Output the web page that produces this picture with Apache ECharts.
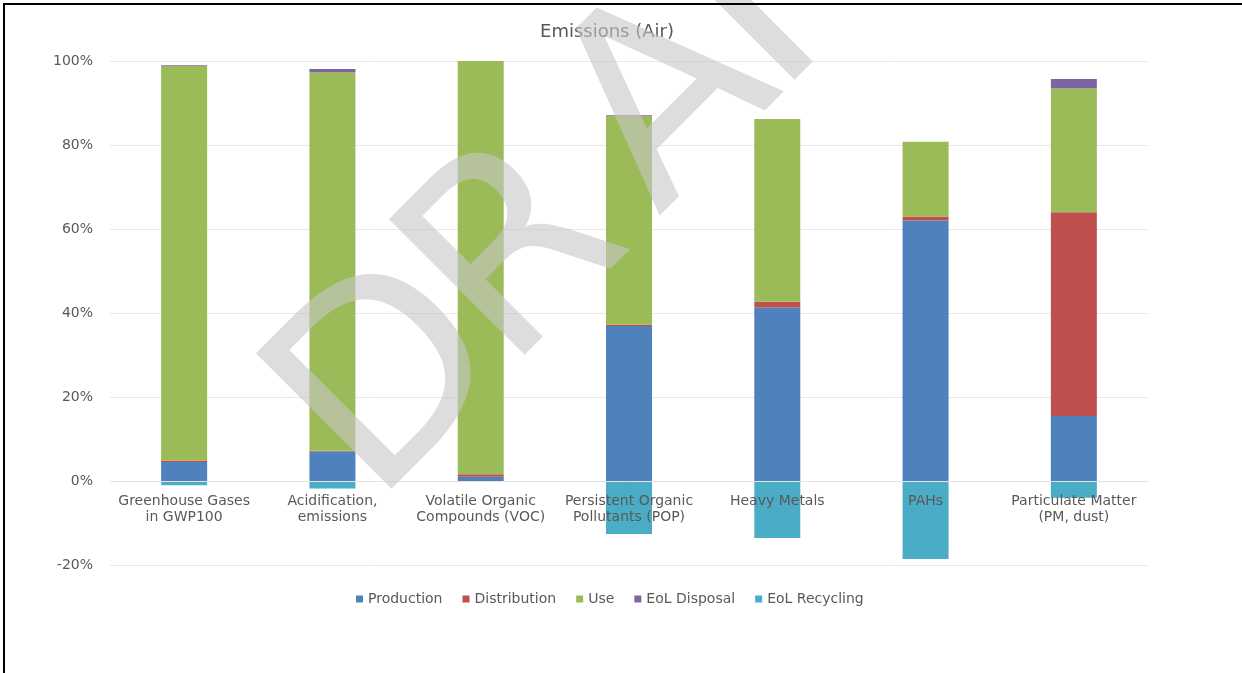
<!DOCTYPE html>
<html>
<head>
<meta charset="utf-8">
<title>Emissions (Air)</title>
<style>
  html, body { margin: 0; padding: 0; background: #fff; }
  #main { width: 1242px; height: 673px; }
</style>
<script src="https://cdn.jsdelivr.net/npm/echarts@6/dist/echarts.min.js"></script>
</head>
<body>
<div id="main"></div>
<script>
// categories and stacked shares (%)
var categories = [
    'Greenhouse Gases\nin GWP100',
    'Acidification,\nemissions',
    'Volatile Organic\nCompounds (VOC)',
    'Persistent Organic\nPollutants (POP)',
    'Heavy Metals',
    'PAHs',
    'Particulate Matter\n(PM, dust)'
];
var production   = [4.5, 7.0, 1.0, 36.9, 41.3, 62.0, 15.5];
var distribution = [0.4, 0.2, 0.6, 0.3, 1.4, 1.0, 48.5];
var use          = [93.9, 90.1, 98.4, 49.7, 43.5, 17.8, 29.5];
var eolDisposal  = [0.2, 0.8, 0.0, 0.2, 0.0, 0.0, 2.2];
var eolRecycling = [-1.0, -1.8, 0.0, -12.6, -13.6, -18.6, -4.0];

var seriesNames = ['Production', 'Distribution', 'Use', 'EoL Disposal', 'EoL Recycling'];
var seriesData = [production, distribution, use, eolDisposal, eolRecycling];
var colors = ['#4f81bd', '#c0504d', '#9bbb59', '#8064a2', '#4bacc6'];

var font = '"DejaVu Sans", Verdana, sans-serif';

// "DRAFT" watermark, one glyph at a time along a 45 degree baseline
// [letter, x, y of the lower-left ink corner, left side bearing]
var wmLetters = [['D', 390, 487, 26], ['R', 523, 353, 26], ['A', 658, 214, 2], ['F', 793, 78, 26], ['T', 930, -58, 0]];
var wmSize = 263, wmDrop = 66, k = Math.SQRT1_2;

var myChart = echarts.init(document.getElementById('main'));

var series = seriesNames.map(function (name, i) {
    return {
        name: name,
        type: 'bar',
        stack: 'total',
        barWidth: 46,
        itemStyle: { color: colors[i] },
        data: seriesData[i]
    };
});

var graphics = wmLetters.map(function (l) {
    return {
        type: 'text',
        x: l[1] - l[3] * k - wmDrop * k,
        y: l[2] + l[3] * k - wmDrop * k,
        rotation: Math.PI / 4,
        z: 100,
        silent: true,
        style: {
            text: l[0],
            font: 'normal ' + wmSize + 'px "DejaVu Sans", sans-serif',
            fill: 'rgba(198,198,198,0.6)',
            textAlign: 'left',
            textVerticalAlign: 'middle'
        }
    };
});
// frame lines (top and left)
graphics.push({
    type: 'line', z: 101, silent: true,
    shape: { x1: 3, y1: 4, x2: 1242, y2: 4 },
    style: { stroke: '#000', lineWidth: 2 }
});
graphics.push({
    type: 'line', z: 101, silent: true,
    shape: { x1: 4, y1: 3, x2: 4, y2: 673 },
    style: { stroke: '#000', lineWidth: 2 }
});

var option = {
    animation: false,
    color: colors,
    title: {
        text: 'Emissions (Air)',
        left: 602,
        textAlign: 'center',
        top: 18,
        textStyle: { fontFamily: font, fontSize: 18, fontWeight: 'normal', color: '#595959' }
    },
    legend: {
        data: seriesNames,
        left: 351,
        top: 587,
        itemWidth: 7,
        itemHeight: 7,
        itemGap: 20,
        icon: 'rect',
        textStyle: { fontFamily: font, fontSize: 14, color: '#595959' }
    },
    grid: { left: 110, right: 94, top: 61, bottom: 108, containLabel: false },
    xAxis: {
        type: 'category',
        data: categories,
        z: 3,
        axisTick: { show: false },
        axisLine: { lineStyle: { color: '#e3e3e3' } },
        axisLabel: {
            fontFamily: font, fontSize: 14, color: '#595959',
            lineHeight: 16, margin: -72, interval: 0
        }
    },
    yAxis: {
        type: 'value',
        min: -20,
        max: 100,
        interval: 20,
        axisLine: { show: false },
        axisTick: { show: false },
        splitLine: { lineStyle: { color: '#e8e8e8' } },
        axisLabel: {
            fontFamily: font, fontSize: 14, color: '#595959', margin: 17,
            formatter: '{value}%'
        }
    },
    graphic: graphics,
    series: series
};

myChart.setOption(option);
</script>
</body>
</html>
